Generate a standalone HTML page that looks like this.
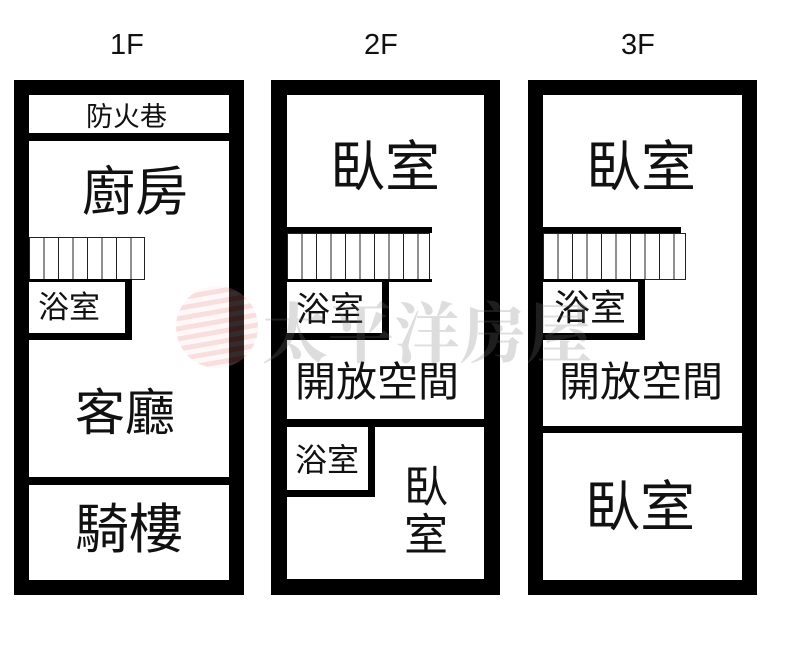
<!DOCTYPE html>
<html><head><meta charset="utf-8"><style>
body{margin:0;width:800px;height:652px;background:#fff;position:relative;overflow:hidden;font-family:"Liberation Sans","Noto Sans CJK TC",sans-serif;color:#111}
.a{position:absolute;box-sizing:border-box}
.k{position:absolute;background:#000}
.t{position:absolute;white-space:nowrap;line-height:1}
.st{position:absolute;box-sizing:border-box;border:1px solid #222;background:repeating-linear-gradient(90deg,#fff 0,#fff 13.5px,#222 13.5px,#222 14.5px)}
</style></head><body>
<div class="t" style="left:110px;top:31px;font-size:29px">1F</div>
<div class="t" style="left:364px;top:31px;font-size:29px">2F</div>
<div class="t" style="left:621px;top:31px;font-size:29px">3F</div>

<!-- 1F -->
<div class="a" style="left:14px;top:80px;width:230px;height:515px;border:15px solid #000"></div>
<div class="k" style="left:29px;top:133px;width:200px;height:8px"></div>
<div class="t" style="left:86px;top:104px;font-size:27px">防火巷</div>
<div class="t" style="left:82px;top:166px;font-size:53px">廚房</div>
<div class="st" style="left:29px;top:237px;width:116px;height:43px"></div>
<div class="k" style="left:29px;top:279px;width:103px;height:3px"></div>
<div class="k" style="left:125px;top:280px;width:7px;height:60px"></div>
<div class="k" style="left:29px;top:333px;width:103px;height:7px"></div>
<div class="t" style="left:38px;top:292px;font-size:31px">浴室</div>
<div class="t" style="left:75px;top:388px;font-size:50px">客廳</div>
<div class="k" style="left:29px;top:477px;width:200px;height:8px"></div>
<div class="t" style="left:75px;top:503px;font-size:54px">騎樓</div>

<!-- 2F -->
<div class="a" style="left:271px;top:80px;width:229px;height:515px;border:16px solid #000;border-top-width:15px"></div>
<div class="t" style="left:330px;top:140px;font-size:55px">臥室</div>
<div class="k" style="left:287px;top:227px;width:145px;height:6px"></div>
<div class="st" style="left:287px;top:233px;width:143px;height:47px"></div>
<div class="k" style="left:287px;top:279px;width:145px;height:3px"></div>
<div class="k" style="left:382px;top:280px;width:7px;height:60px"></div>
<div class="k" style="left:287px;top:333px;width:102px;height:7px"></div>
<div class="t" style="left:296px;top:293px;font-size:34px">浴室</div>
<div class="t" style="left:295px;top:362px;font-size:41px">開放空間</div>
<div class="k" style="left:287px;top:419px;width:198px;height:8px"></div>
<div class="k" style="left:368px;top:427px;width:7px;height:70px"></div>
<div class="k" style="left:287px;top:490px;width:88px;height:7px"></div>
<div class="t" style="left:295px;top:444px;font-size:32px">浴室</div>
<div class="t" style="left:404px;top:464px;font-size:44px;line-height:48px">臥<br>室</div>

<!-- 3F -->
<div class="a" style="left:528px;top:80px;width:229px;height:515px;border:15px solid #000"></div>
<div class="t" style="left:586px;top:140px;font-size:55px">臥室</div>
<div class="k" style="left:543px;top:227px;width:138px;height:6px"></div>
<div class="st" style="left:543px;top:233px;width:143px;height:47px"></div>
<div class="k" style="left:543px;top:279px;width:102px;height:3px"></div>
<div class="k" style="left:638px;top:280px;width:7px;height:60px"></div>
<div class="k" style="left:543px;top:333px;width:102px;height:7px"></div>
<div class="t" style="left:554px;top:290px;font-size:36px">浴室</div>
<div class="t" style="left:559px;top:362px;font-size:41px">開放空間</div>
<div class="k" style="left:543px;top:426px;width:199px;height:7px"></div>
<div class="t" style="left:585px;top:480px;font-size:55px">臥室</div>

<!-- watermark -->
<div class="a" style="left:176px;top:286px;width:82px;height:82px;border-radius:50%;background:repeating-linear-gradient(170deg,rgba(230,120,120,.3) 0,rgba(230,120,120,.3) 5px,rgba(255,220,220,.25) 5px,rgba(255,220,220,.25) 10px);opacity:.8"></div>
<div class="t" style="left:262px;top:296px;font-size:66px;font-family:'Noto Serif CJK SC',serif;color:rgba(120,120,120,.25);font-weight:bold">太平洋房屋</div>
</body></html>
